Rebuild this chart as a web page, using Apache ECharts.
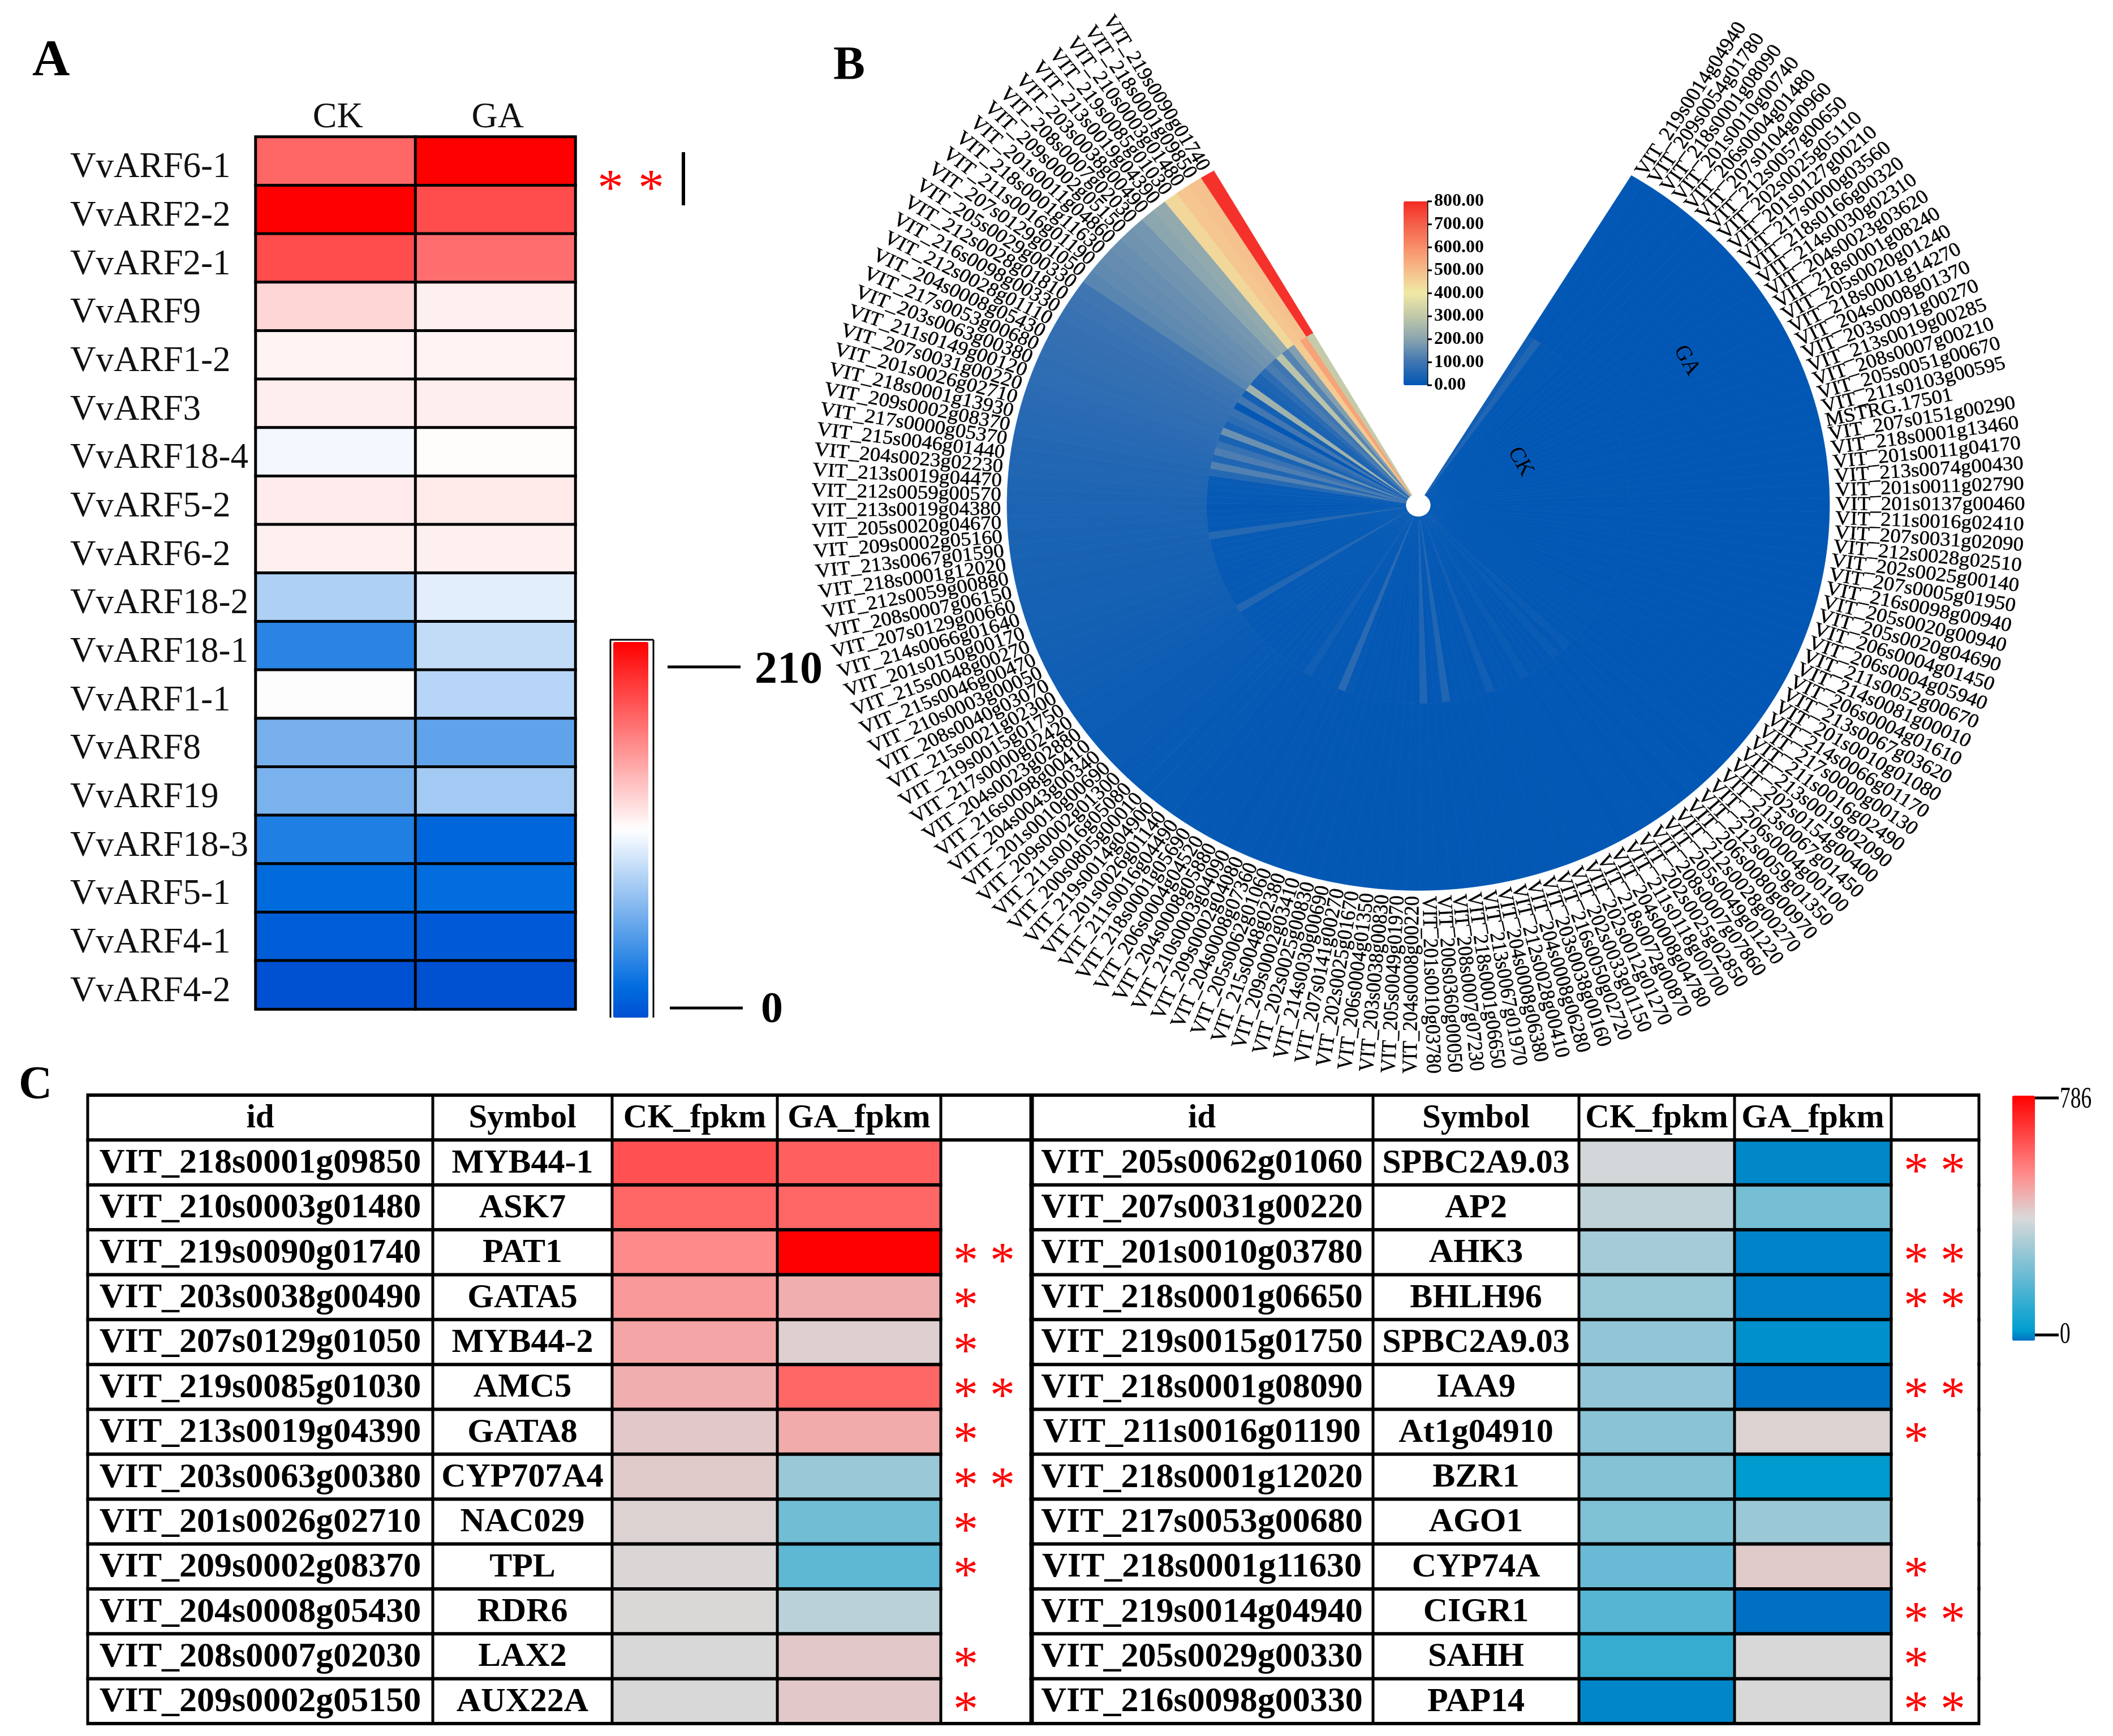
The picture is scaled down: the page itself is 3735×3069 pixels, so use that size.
<!DOCTYPE html>
<html><head><meta charset="utf-8">
<style>html,body{margin:0;padding:0;background:#fff}#c{width:3735px;height:3069px}</style>
<script src="https://cdn.jsdelivr.net/npm/echarts@6/dist/echarts.min.js"></script>
</head><body><div id="c"></div>
<script>
// ---------- Panel A data ----------
const arfGenes=['VvARF6-1','VvARF2-2','VvARF2-1','VvARF9','VvARF1-2','VvARF3','VvARF18-4','VvARF5-2','VvARF6-2','VvARF18-2','VvARF18-1','VvARF1-1','VvARF8','VvARF19','VvARF18-3','VvARF5-1','VvARF4-1','VvARF4-2'];
const arfGroups=['CK','GA'];
const arfCK=[168,210,178,122,110,112,101,113,111,77,31,105,58,59,28,16,8,0];
const arfGA=[210,178,165,111,110,112,106,114,111,95,84,80,50,73,13,17,6,0];
// ---------- Panel B data (clockwise from the top right) ----------
const circGenes=['VIT_219s0014g04940','VIT_209s0054g01780','VIT_218s0001g08090','VIT_201s0010g00740','VIT_206s0004g01480','VIT_207s0104g00960','VIT_212s0057g00650','VIT_202s0025g05110','VIT_201s0127g00210','VIT_217s0000g03560','VIT_218s0166g00320','VIT_214s0030g02310','VIT_204s0023g03620','VIT_218s0001g08240','VIT_205s0020g01240','VIT_218s0001g14270','VIT_204s0008g01370','VIT_203s0091g00270','VIT_213s0019g00285','VIT_208s0007g00210','VIT_205s0051g00670','VIT_211s0103g00595','MSTRG.17501','VIT_207s0151g00290','VIT_218s0001g13460','VIT_201s0011g04170','VIT_213s0074g00430','VIT_201s0011g02790','VIT_201s0137g00460','VIT_211s0016g02410','VIT_207s0031g02090','VIT_212s0028g02510','VIT_202s0025g00140','VIT_207s0005g01950','VIT_216s0098g00940','VIT_205s0020g00940','VIT_205s0020g04690','VIT_206s0004g01450','VIT_206s0004g05940','VIT_211s0052g00670','VIT_214s0081g00010','VIT_206s0004g01610','VIT_213s0067g03620','VIT_201s0010g01080','VIT_214s0066g01170','VIT_217s0000g00130','VIT_211s0016g02490','VIT_213s0019g02090','VIT_202s0154g00400','VIT_213s0067g01450','VIT_206s0004g00100','VIT_212s0059g01350','VIT_206s0080g00970','VIT_212s0028g00270','VIT_205s0049g01220','VIT_208s0007g07860','VIT_202s0025g02850','VIT_211s0118g00700','VIT_204s0008g04780','VIT_218s0072g00870','VIT_202s0012g01270','VIT_202s0033g01150','VIT_216s0050g02720','VIT_203s0038g00160','VIT_204s0008g06280','VIT_212s0028g00410','VIT_204s0008g06380','VIT_213s0067g01970','VIT_218s0001g06650','VIT_208s0007g07230','VIT_200s0360g00050','VIT_201s0010g03780','VIT_204s0008g00220','VIT_205s0049g01970','VIT_203s0038g00830','VIT_206s0004g01350','VIT_202s0025g01670','VIT_207s0141g00270','VIT_214s0030g00690','VIT_202s0025g00830','VIT_209s0002g03410','VIT_215s0048g02380','VIT_205s0062g01060','VIT_204s0008g07360','VIT_209s0002g04080','VIT_210s0003g04090','VIT_204s0008g05880','VIT_206s0004g04520','VIT_218s0001g05690','VIT_211s0016g04490','VIT_201s0026g01140','VIT_219s0014g04900','VIT_200s0805g00010','VIT_211s0016g05080','VIT_209s0002g01300','VIT_201s0010g00690','VIT_204s0043g00340','VIT_216s0098g00410','VIT_204s0023g02880','VIT_217s0000g02420','VIT_219s0015g01750','VIT_215s0021g02300','VIT_208s0040g03070','VIT_210s0003g00050','VIT_215s0046g00470','VIT_215s0048g00270','VIT_201s0150g00170','VIT_214s0066g01640','VIT_207s0129g00660','VIT_208s0007g06150','VIT_212s0059g00880','VIT_218s0001g12020','VIT_213s0067g01590','VIT_209s0002g05160','VIT_205s0020g04670','VIT_213s0019g04380','VIT_212s0059g00570','VIT_213s0019g04470','VIT_204s0023g02230','VIT_215s0046g01440','VIT_217s0000g05370','VIT_209s0002g08370','VIT_218s0001g13930','VIT_201s0026g02710','VIT_207s0031g00220','VIT_211s0149g00120','VIT_203s0063g00380','VIT_217s0053g00680','VIT_204s0008g05430','VIT_212s0028g01110','VIT_216s0098g00330','VIT_212s0028g01810','VIT_205s0029g00330','VIT_207s0129g01050','VIT_211s0016g01190','VIT_218s0001g11630','VIT_201s0011g04860','VIT_209s0002g05150','VIT_208s0007g02030','VIT_203s0038g00490','VIT_213s0019g04390','VIT_219s0085g01030','VIT_210s0003g01480','VIT_218s0001g09850','VIT_219s0090g01740'];
const circCK=[25,50,4,3,2,2,1,2,1,1,
 1,2,1,1,1,2,1,1,2,1,
 1,2,1,1,2,2,3,1,1,2,
 1,2,2,1,1,2,1,1,2,1,
 2,1,3,2,2,3,2,3,3,4,
 14,5,14,4,5,6,5,14,5,4,
 6,5,25,5,4,6,4,5,50,6,
 5,50,5,4,6,5,4,6,5,6,
 5,8,65,7,6,8,7,25,8,6,
 9,7,10,8,7,9,8,10,9,8,
 55,9,8,10,9,8,10,9,11,10,
 12,60,8,10,6,5,8,10,12,15,
 60,125,50,120,90,40,160,40,70,90,
 5,105,30,240,40,45,70,115,100,285,
 130,190,470,555,310];
const circGA=[2,1,1,1,1,1,1,1,1,1,
 1,1,1,1,1,1,1,1,1,1,
 1,1,1,1,1,1,1,1,1,1,
 1,1,1,1,1,1,1,1,1,1,
 1,1,1,1,1,1,1,1,2,1,
 1,2,1,2,1,2,2,1,2,2,
 2,3,2,2,3,2,3,3,2,3,
 3,3,3,4,3,4,4,3,4,5,
 4,5,5,5,6,5,6,7,6,7,
 10,9,10,12,11,13,14,15,17,18,
 20,22,23,25,27,29,31,33,34,35,
 36,38,39,41,42,44,46,48,50,52,
 55,58,62,65,68,72,75,78,82,86,
 90,94,100,135,145,150,155,165,170,205,
 215,440,480,490,786];
const ringNames=['CK','GA'];
const circTicks=['800.00','700.00','600.00','500.00','400.00','300.00','200.00','100.00','0.00'];
// ---------- Panel C data ----------
const tableHeader=['id','Symbol','CK_fpkm','GA_fpkm',''];
const leftIds=['VIT_218s0001g09850','VIT_210s0003g01480','VIT_219s0090g01740','VIT_203s0038g00490','VIT_207s0129g01050','VIT_219s0085g01030','VIT_213s0019g04390','VIT_203s0063g00380','VIT_201s0026g02710','VIT_209s0002g08370','VIT_204s0008g05430','VIT_208s0007g02030','VIT_209s0002g05150'];
const leftSymbols=['MYB44-1','ASK7','PAT1','GATA5','MYB44-2','AMC5','GATA8','CYP707A4','NAC029','TPL','RDR6','LAX2','AUX22A'];
const leftCK=[640,601,536,509,487,469,424,420,405,398,397,393,393];
const leftGA=[613,601,786,468,409,601,476,290,219,189,342,424,424];
const leftStars=[0,0,2,1,1,2,1,2,1,1,0,1,1];
const rightIds=['VIT_205s0062g01060','VIT_207s0031g00220','VIT_201s0010g03780','VIT_218s0001g06650','VIT_219s0015g01750','VIT_218s0001g08090','VIT_211s0016g01190','VIT_218s0001g12020','VIT_217s0053g00680','VIT_218s0001g11630','VIT_219s0014g04940','VIT_205s0029g00330','VIT_216s0098g00330'];
const rightSymbols=['SPBC2A9.03','AP2','AHK3','BHLH96','SPBC2A9.03','IAA9','At1g04910','BZR1','AGO1','CYP74A','CIGR1','SAHH','PAP14'];
const rightCK=[385,347,307,288,275,275,260,252,244,206,176,123,16];
const rightGA=[17,227,14,12,24,2,405,33,290,420,0,393,393];
const rightStars=[2,0,2,2,0,2,1,0,0,1,2,1,2];

// ---------- helpers ----------
const SERIF='"Liberation Serif"';
function ramp(stops,n){
  const hex=h=>[1,3,5].map(i=>parseInt(h.substr(i,2),16));
  const out=[];
  for(let k=0;k<n;k++){
    const t=k/(n-1);
    let i=0; while(i<stops.length-2&&t>stops[i+1][0]) i++;
    const a=stops[i],b=stops[i+1],f=(t-a[0])/(b[0]-a[0]),p=hex(a[1]),q=hex(b[1]);
    out.push('rgb('+p.map((v,j)=>Math.round(v+(q[j]-v)*f)).join(',')+')');
  }
  return out;
}
const arfColors=ramp([[0,'#0050d2'],[.08,'#006cde'],[.5,'#ffffff'],[1,'#ff0000']],80);
const circColors=ramp([[0,'#0157b4'],[.125,'#3f75b2'],[.25,'#8aa4af'],[.375,'#c0c8a9'],[.5,'#f0e9a5'],[.625,'#f6bd8b'],[.75,'#f88e68'],[.875,'#f5604a'],[1,'#f42a24']],80);
const tableColors=ramp([[0,'#0070c4'],[.042,'#009ecf'],[.5,'#d9d9d9'],[.597,'#f0afaf'],[.682,'#ff8a8a'],[1,'#ff0000']],100);

function txt(x,y,text,font,align,fill,extra){
  return Object.assign({type:'text',x:x,y:y,silent:true,style:{text:text,font:font,align:align||'left',verticalAlign:'middle',fill:fill||'#000'}},extra||{});
}
function ln(x1,y1,x2,y2,w){return {type:'line',silent:true,shape:{x1,y1,x2,y2},style:{stroke:'#000',lineWidth:w||4}};}

// ---------- layout of panel B (an ellipse in the reference) ----------
const polarCenter=[2507,893], polarRadius=[22,727], ySquash=0.937;
const gapStart=31.2, sweep=299;                      // degrees clockwise from north
const angleMax=circGenes.length*360/sweep;
function squash(children){return {type:'group',originX:polarCenter[0],originY:polarCenter[1],scaleY:ySquash,children:children};}

function renderCirc(params,api){
  const ring=api.value(0), idx=api.value(1), pts=[];
  for(let k=0;k<=3;k++) pts.push(api.coord([ring,idx+k/3]));
  for(let k=3;k>=0;k--) pts.push(api.coord([ring+1,idx+k/3]));
  const c=api.visual('color');
  return squash([{type:'polygon',shape:{points:pts},style:{fill:c,stroke:c,lineWidth:0.7}}]);
}
function renderGeneLabel(params,api){
  const idx=api.value(0), p=api.coord([2.03,idx+0.5]);
  const theta=gapStart+(idx+0.5)*sweep/circGenes.length;
  const right=theta<180;
  const rot=-(right?theta-90:theta+90)*Math.PI/180;
  return squash([{type:'text',x:p[0],y:p[1],rotation:rot,silent:true,
    style:{text:circGenes[params.dataIndex],font:'37px '+SERIF,fill:'#000',stroke:'#000',lineWidth:0.5,align:right?'left':'right',verticalAlign:'middle'}}]);
}
function renderRingName(params,api){
  const p=api.coord([api.value(0),api.value(1)]);
  return squash([{type:'text',x:p[0],y:p[1],rotation:-62*Math.PI/180,silent:true,
    style:{text:ringNames[params.dataIndex],font:'40px '+SERIF,fill:'#000',align:'center',verticalAlign:'middle'}}]);
}

// ---------- table skeleton (panel C) ----------
function makeTable(ids,symbols,stars,edges){
  return function(params,api){
    const row=api.value(0), kids=[];
    const yc=api.coord([0,row])[1], h=api.size([0,1])[1];
    const X=v=>api.coord([v,row])[0];
    const top=yc-h/2,bot=yc+h/2;
    const cell=(i,s,w)=>txt((X(edges[i])+X(edges[i+1]))/2,yc+2,s,'bold '+w+'px '+SERIF,'center');
    if(row===0){
      tableHeader.forEach((s,i)=>{if(s)kids.push(cell(i,s,59));});
      kids.push(ln(X(edges[0]),top,X(edges[5]),top,6));
      kids.push(ln(X(edges[0]),bot,X(edges[5]),bot,6));
    }else{
      kids.push(cell(0,ids[row-1],62));
      kids.push(cell(1,symbols[row-1],60));
      kids.push(ln(X(edges[0]),bot,X(edges[row===13?5:4]),bot,6));
      for(let s=0;s<stars[row-1];s++){
        kids.push(txt(X(edges[4])+44+s*65,yc+20,'*','88px '+SERIF,'center','#ff0000'));
      }
    }
    edges.forEach(e=>kids.push(ln(X(e),top-3,X(e),bot+3,5)));
    return {type:'group',children:kids};
  };
}
const leftEdges=[0,610,927,1219,1508,1670], rightEdges=[0,605,969,1244,1521,1676];
const rowNames=['header'].concat(leftIds);
const hm=(arrA,arrB)=>arrA.map((v,i)=>[0,i,v]).concat(arrB.map((v,i)=>[1,i,v]));
const hiddenCat=d=>({type:'category',data:d,show:false,inverse:true});

const option={
  animation:false,backgroundColor:'#fff',tooltip:{show:false},
  grid:[
    {left:452,top:242,width:565,height:1542},
    {left:1082,top:2015,width:582,height:1032},
    {left:2791,top:2015,width:552,height:1032},
    {left:155,top:1936,width:1670,height:1111},
    {left:1822,top:1936,width:1676,height:1111}
  ],
  xAxis:[
    {gridIndex:0,type:'category',position:'top',data:arfGroups,axisLine:{show:false},axisTick:{show:false},splitArea:{show:false},
     axisLabel:{fontFamily:SERIF,fontSize:64,color:'#111',margin:2,padding:[0,0,0,8]}},
    {gridIndex:1,type:'category',data:['CK_fpkm','GA_fpkm'],show:false},
    {gridIndex:2,type:'category',data:['CK_fpkm','GA_fpkm'],show:false},
    {gridIndex:3,type:'value',min:0,max:1670,show:false},
    {gridIndex:4,type:'value',min:0,max:1676,show:false}
  ],
  yAxis:[
    {gridIndex:0,type:'category',inverse:true,data:arfGenes,axisLine:{show:false},axisTick:{show:false},
     axisLabel:{interval:0,fontFamily:SERIF,fontSize:63,color:'#111',align:'left',margin:328,verticalAlign:'top',lineHeight:24}},
    Object.assign(hiddenCat(leftIds),{gridIndex:1}),
    Object.assign(hiddenCat(rightIds),{gridIndex:2}),
    Object.assign(hiddenCat(rowNames),{gridIndex:3}),
    Object.assign(hiddenCat(rowNames),{gridIndex:4})
  ],
  polar:{center:polarCenter,radius:polarRadius},
  angleAxis:{type:'value',min:0,max:angleMax,startAngle:90-gapStart,clockwise:true,show:false},
  radiusAxis:{type:'value',min:0,max:2,show:false},
  visualMap:[
    {type:'continuous',seriesIndex:0,dimension:2,min:0,max:210,calculable:false,text:null,itemWidth:62,itemHeight:664,left:1084,top:1135,padding:0,inRange:{color:arfColors},textStyle:{fontSize:1,color:'transparent'},hoverLink:false},
    {type:'continuous',seriesIndex:[1],dimension:2,min:0,max:800,calculable:false,text:null,itemWidth:42,itemHeight:325,left:2481,top:356,padding:0,inRange:{color:circColors},textStyle:{fontSize:1,color:'transparent'},hoverLink:false},
    {type:'continuous',seriesIndex:[4,5],dimension:2,min:0,max:786,calculable:false,text:null,itemWidth:40,itemHeight:433,left:3557,top:1937,padding:0,inRange:{color:tableColors},textStyle:{fontSize:1,color:'transparent'},hoverLink:false}
  ],
  series:[
    {name:'Panel A',type:'heatmap',xAxisIndex:0,yAxisIndex:0,data:hm(arfCK,arfGA),itemStyle:{borderColor:'#000',borderWidth:5},progressive:0},
    {name:'Panel B cells',type:'custom',coordinateSystem:'polar',encode:{radius:0,angle:1,value:2},renderItem:renderCirc,clip:false,
      data:circCK.map((v,i)=>[0,i,v]).concat(circGA.map((v,i)=>[1,i,v]))},
    {name:'Panel B labels',type:'custom',coordinateSystem:'polar',encode:{angle:0},renderItem:renderGeneLabel,clip:false,silent:true,z:5,
      data:circGenes.map((g,i)=>[i])},
    {name:'Panel B rings',type:'custom',coordinateSystem:'polar',encode:{radius:0,angle:1},renderItem:renderRingName,clip:false,silent:true,z:6,
      data:[[0.5,16.7],[1.49,14]]},
    {name:'Panel C left',type:'heatmap',xAxisIndex:1,yAxisIndex:1,data:hm(leftCK,leftGA),progressive:0},
    {name:'Panel C right',type:'heatmap',xAxisIndex:2,yAxisIndex:2,data:hm(rightCK,rightGA),progressive:0},
    {name:'Table left',type:'custom',xAxisIndex:3,yAxisIndex:3,encode:{y:0},renderItem:makeTable(leftIds,leftSymbols,leftStars,leftEdges),clip:false,silent:true,z:7,
      data:rowNames.map((r,i)=>[i])},
    {name:'Table right',type:'custom',xAxisIndex:4,yAxisIndex:4,encode:{y:0},renderItem:makeTable(rightIds,rightSymbols,rightStars,rightEdges),clip:false,silent:true,z:7,
      data:rowNames.map((r,i)=>[i])}
  ],
  graphic:{elements:[
    txt(57,109,'A','bold 92px '+SERIF),
    txt(1473,118,'B','bold 84px '+SERIF),
    txt(33,1920,'C','bold 82px '+SERIF),
    // Panel A significance + colour bar furniture
    txt(1079,338,'*','92px '+SERIF,'center','#ff0000'),
    txt(1151,338,'*','92px '+SERIF,'center','#ff0000'),
    ln(1208,269,1208,363,6),
    ln(1079,1799,1079,1131,3),ln(1078,1131,1155,1131,3),ln(1155,1131,1155,1799,3),
    ln(1180,1179,1309,1179,5),txt(1334,1186,'210','bold 80px '+SERIF),
    ln(1184,1782,1313,1782,5),txt(1345,1787,'0','bold 78px '+SERIF),
    // Panel B colour bar furniture
    ln(2523,356,2523,681,3)
  ].concat(circTicks.flatMap((t,i)=>{
      const y=356+i*(325/8);
      return [ln(2523,y,2531,y,3),txt(2535,y,t,'bold 32px '+SERIF)];
    })).concat([
    // Panel C colour bar furniture
    ln(3597,1941,3639,1941,5),ln(3597,2360,3639,2360,5),
    txt(3641,1944,'786','52px '+SERIF,'left','#000',{scaleX:.72}),
    txt(3641,2360,'0','52px '+SERIF,'left','#000',{scaleX:.72})
  ])}
};
echarts.init(document.getElementById('c'),null,{renderer:'canvas',width:3735,height:3069}).setOption(option);
</script></body></html>
